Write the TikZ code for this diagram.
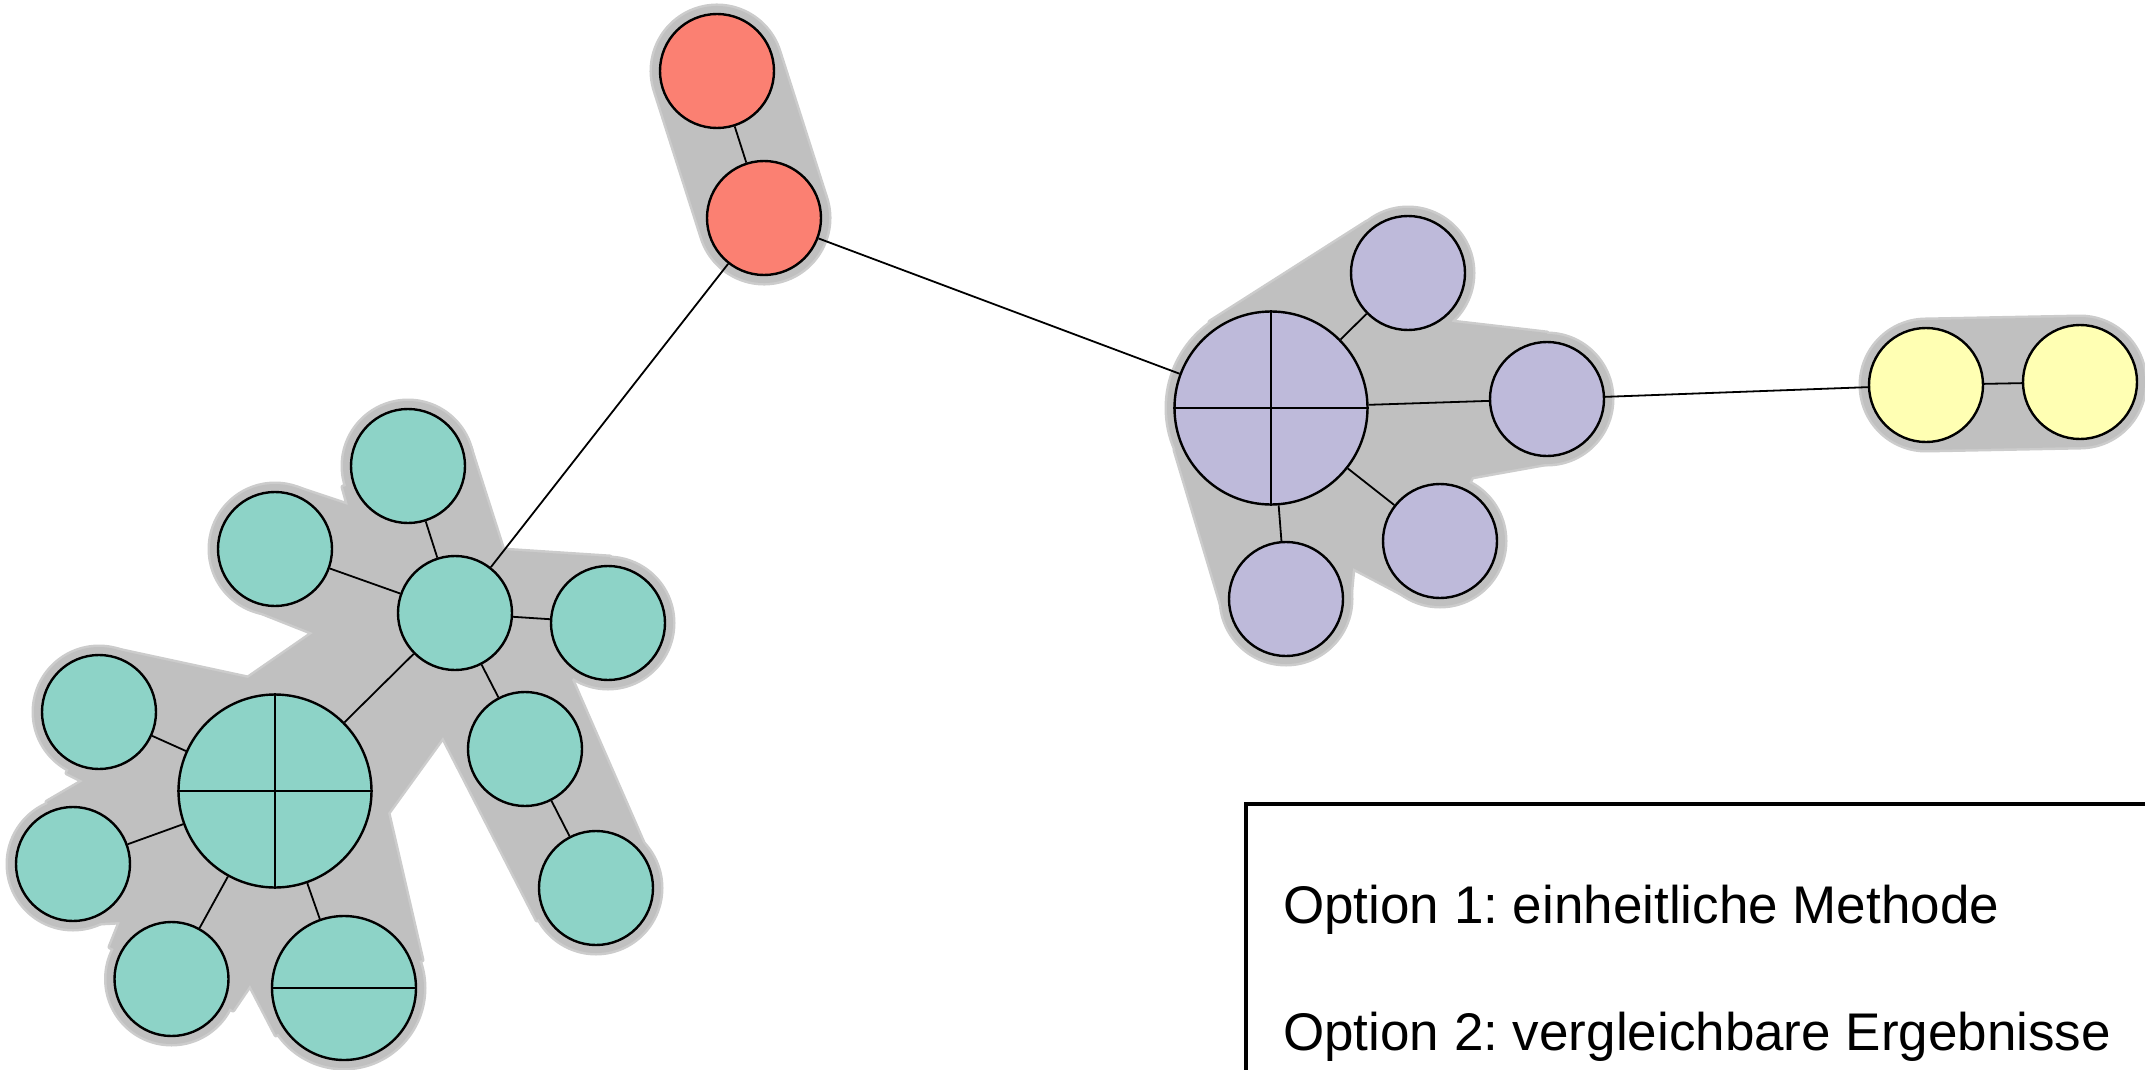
\documentclass[tikz,border=0pt]{standalone}
\usepackage{fontspec}
\setmainfont{Liberation Sans}
\usetikzlibrary{backgrounds}
\definecolor{teal3}{HTML}{8DD3C7}
\definecolor{salmon3}{HTML}{FB8072}
\definecolor{lav3}{HTML}{BEBADA}
\definecolor{yel3}{HTML}{FFFFB3}
\definecolor{hullgray}{HTML}{C0C0C0}
\definecolor{hullrim}{HTML}{CCCCCC}
\tikzset{
  nd/.style={circle, draw=black, line width=2.4pt, inner sep=0pt, minimum size=114pt},
  bignd/.style={nd, minimum size=193pt},
  midnd/.style={nd, minimum size=144pt},
  edge/.style={draw=black, line width=1.8pt},
  rimline/.style={draw=hullrim, line width=5pt, line join=round},
  legendtext/.style={anchor=base west, inner sep=0pt, font=\fontsize{53}{60}\selectfont\frenchspacing},
}
\begin{document}
\frenchspacing
\begin{tikzpicture}[x=1pt,y=-1pt]
\useasboundingbox (0,0) rectangle (2145,1070);

% ---- red group
\node[nd, fill=salmon3] (r1) at (717,71) {};
\node[nd, fill=salmon3] (r2) at (764,218) {};
% ---- teal group
\node[nd, fill=teal3] (th) at (455,613) {};
\node[nd, fill=teal3] (tt) at (408,466) {};
\node[nd, fill=teal3] (tu) at (275,549) {};
\node[nd, fill=teal3] (tr) at (608,623) {};
\node[nd, fill=teal3] (tc1) at (525,749) {};
\node[nd, fill=teal3] (tc2) at (596,888) {};
\node[bignd, fill=teal3] (tq) at (275,791) {};
\node[nd, fill=teal3] (tl) at (99,712) {};
\node[nd, fill=teal3] (tll) at (73,864) {};
\node[nd, fill=teal3] (tb) at (171.5,979) {};
\node[midnd, fill=teal3] (tw) at (344,988) {};
% ---- purple group
\node[bignd, fill=lav3] (pq) at (1271,408) {};
\node[nd, fill=lav3] (pt) at (1408,273) {};
\node[nd, fill=lav3] (pr) at (1547,399) {};
\node[nd, fill=lav3] (pbr) at (1440,541) {};
\node[nd, fill=lav3] (pb) at (1286,599) {};
% ---- yellow group
\node[nd, fill=yel3] (y1) at (1926,385) {};
\node[nd, fill=yel3] (y2) at (2080,382) {};

% dividers inside the split nodes
\draw[line width=2.4pt] (tq.north) -- (tq.south) (tq.west) -- (tq.east);
\draw[line width=2.4pt] (pq.north) -- (pq.south) (pq.west) -- (pq.east);
\draw[line width=2.4pt] (tw.west) -- (tw.east);

\begin{pgfonlayer}{background}
  % ---------- hull rims
  \draw[rimline, line width=135pt, line cap=round] (r1.center) -- (r2.center);
  \draw[rimline, line width=135pt, line cap=round] (y1.center) -- (y2.center);
  \foreach \n/\r in {tt/65, tu/65, th/65, tr/65, tc1/65, tc2/65, tq/104, tl/65, tll/65, tb/65, tw/80,
                     pq/104, pt/65, pr/65, pbr/65, pb/65}
    {\draw[rimline] (\n.center) circle[radius=\r pt];}
  \draw[rimline] (tt.center) -- (470,447) -- (503,550) -- (610,557) -- (tr.center) -- (572,680)
     -- (658,877) -- (tc2.center) -- (537,920) -- (443,737) -- (388,813) -- (422,960)
     -- (tw.center) -- (276,1035) -- (250,985) -- (233,1010) -- (tb.center) -- (110,947)
     -- (120,922) -- (100,923) -- (tll.center) -- (47,802) -- (83,781) -- (67,773)
     -- (tl.center) -- (118,650) -- (248,678) -- (313,633) -- (260,612) -- (tu.center)
     -- (297,488) -- (348,505) -- (343,487) -- cycle;
  \draw[rimline] (1210,322) -- (1367,222) -- (pt.center) -- (1452,322) -- (1547,333)
     -- (pr.center) -- (1550,463) -- (1472,477) -- (pbr.center) -- (1410,598) -- (1353,568)
     -- (1350,600) -- (pb.center) -- (1222,607) -- (1175,450) -- (pq.center) -- cycle;
  % ---------- hull fills
  \draw[hullgray, line width=130pt, line cap=round] (r1.center) -- (r2.center);
  \draw[hullgray, line width=130pt, line cap=round] (y1.center) -- (y2.center);
  \foreach \n/\r in {tt/65, tu/65, th/65, tr/65, tc1/65, tc2/65, tq/104, tl/65, tll/65, tb/65, tw/80,
                     pq/104, pt/65, pr/65, pbr/65, pb/65}
    {\fill[hullgray] (\n.center) circle[radius=\r pt];}
  \fill[hullgray] (tt.center) -- (470,447) -- (503,550) -- (610,557) -- (tr.center) -- (572,680)
     -- (658,877) -- (tc2.center) -- (537,920) -- (443,737) -- (388,813) -- (422,960)
     -- (tw.center) -- (276,1035) -- (250,985) -- (233,1010) -- (tb.center) -- (110,947)
     -- (120,922) -- (100,923) -- (tll.center) -- (47,802) -- (83,781) -- (67,773)
     -- (tl.center) -- (118,650) -- (248,678) -- (313,633) -- (260,612) -- (tu.center)
     -- (297,488) -- (348,505) -- (343,487) -- cycle;
  \fill[hullgray] (1210,322) -- (1367,222) -- (pt.center) -- (1452,322) -- (1547,333)
     -- (pr.center) -- (1550,463) -- (1472,477) -- (pbr.center) -- (1410,598) -- (1353,568)
     -- (1350,600) -- (pb.center) -- (1222,607) -- (1175,450) -- (pq.center) -- cycle;

  % ---------- connectors
  \draw[edge] (r1) -- (r2);
  \draw[edge] (r2) -- (th);
  \draw[edge] (r2) -- (pq);
  \draw[edge] (th) -- (tt);
  \draw[edge] (th) -- (tu);
  \draw[edge] (th) -- (tr);
  \draw[edge] (th) -- (tc1);
  \draw[edge] (tc1) -- (tc2);
  \draw[edge] (th) -- (tq);
  \draw[edge] (tq) -- (tl);
  \draw[edge] (tq) -- (tll);
  \draw[edge] (tq) -- (tb);
  \draw[edge] (tq) -- (tw);
  \draw[edge] (pq) -- (pt);
  \draw[edge] (pq) -- (pr);
  \draw[edge] (pq) -- (pbr);
  \draw[edge] (pq) -- (pb);
  \draw[edge] (pr) -- (y1);
  \draw[edge] (y1) -- (y2);
\end{pgfonlayer}

% ---- legend
\node[draw=black, line width=3.6pt, anchor=north west, minimum width=1000pt, minimum height=400pt,
      inner sep=0pt] (legend) at (1244,802) {};
\node[legendtext] (opt1) at (1283,923) {Option 1: einheitliche Methode};
\node[legendtext] (opt2) at (1283,1050) {Option 2: vergleichbare Ergebnisse};
\end{tikzpicture}
\end{document}
